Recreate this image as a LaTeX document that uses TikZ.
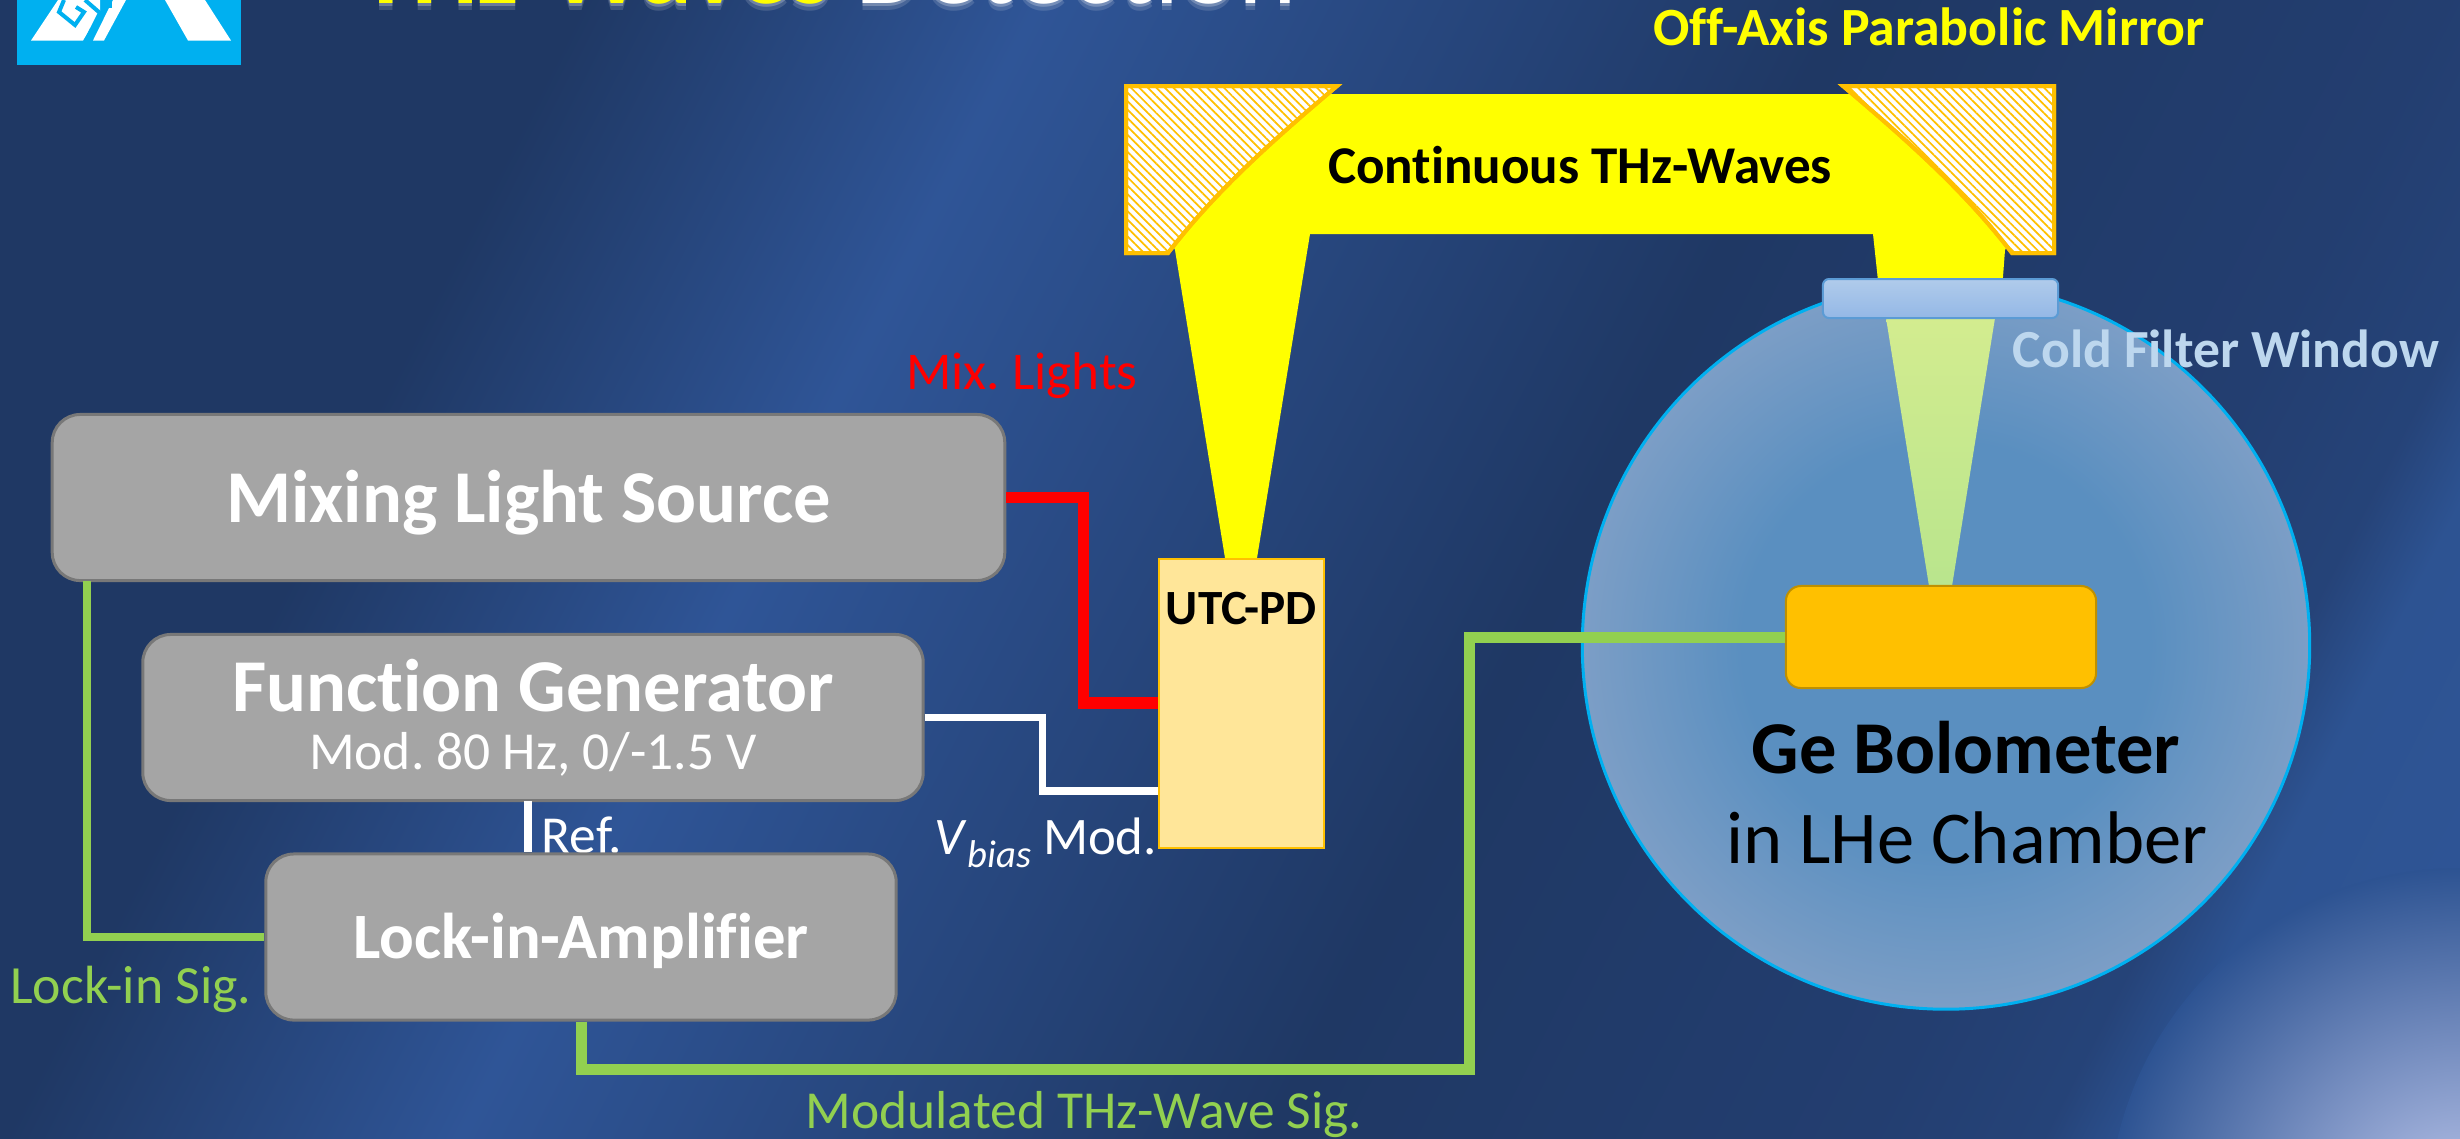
\documentclass[tikz,border=0pt]{standalone}
\usepackage{fontspec}
\setmainfont[Ligatures=NoCommon]{Carlito}
\usetikzlibrary{positioning,calc,patterns.meta}

\definecolor{slidedark}{HTML}{1F3864}
\definecolor{slidemid}{HTML}{233E70}
\definecolor{slideblue}{HTML}{2D5392}
\definecolor{slidelight}{HTML}{2F5597}
\definecolor{cornerglow}{HTML}{BEC8ED}
\definecolor{logoblue}{HTML}{00B0F0}
\definecolor{boxgray}{HTML}{A5A5A5}
\definecolor{boxedge}{HTML}{787878}
\definecolor{wiregreen}{HTML}{92D050}
\definecolor{amber}{HTML}{FFC000}
\definecolor{beamyellow}{HTML}{FFFF00}
\definecolor{pdfill}{HTML}{FFE699}
\definecolor{windowtext}{HTML}{BDD7EE}
\definecolor{windowedge}{HTML}{5B9BD5}
\definecolor{windowtop}{HTML}{B0CBEB}
\definecolor{windowlow}{HTML}{94B8E6}
\definecolor{chambermid}{HTML}{5A8FC0}
\definecolor{chamberrim}{HTML}{7C9EC6}
\definecolor{conetop}{HTML}{D3EC8F}
\definecolor{conelow}{HTML}{B9E58D}

\pgfdeclarehorizontalshading{slidewash}{100bp}{color(0bp)=(slidedark); color(41.9bp)=(slidedark);
  color(46.4bp)=(slidelight); color(54.4bp)=(slidedark); color(60.3bp)=(slidemid);
  color(62.1bp)=(slidemid!75!slideblue); color(63bp)=(slideblue); color(66bp)=(slidelight); color(100bp)=(slidelight)}
\pgfdeclareradialshading{chamberglow}{\pgfpoint{0bp}{0bp}}{color(0bp)=(chambermid);
  color(14bp)=(chambermid); color(25bp)=(chamberrim); color(50bp)=(chamberrim)}

\newcommand{\fs}[1]{\fontsize{#1}{#1}\selectfont}

\tikzset{
  tag/.style={inner sep=0pt, anchor=base},
  graybox/.style={draw=boxedge, line width=0.03cm, fill=boxgray, rounded corners=0.28cm, inner sep=0pt, text=white, align=center},
  mirror/.style={draw=amber, line width=0.04cm, pattern={Lines[angle=-45,distance=1.7pt,line width=0.5pt]}, pattern color=amber},
  wire/.style={line cap=butt, line join=miter}
}

\begin{document}
\frenchspacing
\begin{tikzpicture}[x=0.01cm, y=-0.01cm]
  \useasboundingbox (0,0) rectangle (2460,1138);
  \clip (0,0) rectangle (2460,1138);

  % slide background
  \shade[transform canvas={rotate=-27}, shading=slidewash] (-1000,-2000) rectangle (3500,3000);
  \shade[inner color=cornerglow, outer color=slideblue] (2460,1220) circle (352);

  % logo
  \fill[logoblue] (17,0) rectangle (241,65);
  \fill[white] (58,0) -- (31,40.5) -- (83,40.5) -- (100,13) -- (100,0) -- cycle;
  \fill[white] (113,0) -- (93,40.5) -- (104,40.5) -- (126,0) -- cycle;
  \fill[white] (165,0) -- (188,40.5) -- (231,40.5) -- (205,0) -- cycle;
  \draw[logoblue, line width=0.04cm] (64,0) -- (59,12) -- (75,25) -- (84,12) -- (76,7);
  \draw[logoblue, line width=0.04cm] (85,0) -- (100,13) -- (86,40.5);
  \fill[logoblue] (104,1) rectangle (112,8);

  % title with its soft shadow
  \foreach \off/\op in {7/0.14,3/0.24} {
    \node[tag, anchor=base west, text=white, opacity=\op, font=\fs{29.6}\bfseries] (shadowa\off) at (360,3+\off) {THz-Waves};
    \node[tag, anchor=base west, text=white, opacity=\op, font=\fs{31.6}] (shadowb\off) at (855,3+\off) {Detection};
  }
  \node[tag, anchor=base west, text=beamyellow, font=\fs{29.6}\bfseries] (titlea) at (360,3) {THz-Waves};
  \node[tag, anchor=base west, text=white, font=\fs{31.6}] (titleb) at (855,3) {Detection};

  % cold chamber
  \node[circle, draw=logoblue, line width=0.03cm, minimum size=7.27cm, inner sep=0pt, shading=chamberglow] (chamber) at (1946,645.5) {};
  \shade[top color=conetop, bottom color=conelow]
    (1886,318) -- (1995,318) -- (1952,586) -- (1929,586) -- cycle;

  % THz beam between the two mirrors
  \fill[beamyellow] (1225,558) -- (1175,250) -- (1170,240) -- (1290,94) -- (1890,94) -- (2010,240) -- (2005,250) -- (2002,290)
    -- (1879,290) -- (1873,234) -- (1310,234) -- (1257,558) -- cycle;
  \draw[mirror, fill=white] (1126,86) -- (1337,86) .. controls (1277,137) and (1218,188) .. (1168,253) -- (1126,253) -- cycle;
  \draw[mirror] (1126,86) -- (1337,86) .. controls (1277,137) and (1218,188) .. (1168,253) -- (1126,253) -- cycle;
  \draw[mirror, fill=white] (2054,86) -- (1843,86) .. controls (1903,137) and (1962,188) .. (2012,253) -- (2054,253) -- cycle;
  \draw[mirror] (2054,86) -- (1843,86) .. controls (1903,137) and (1962,188) .. (2012,253) -- (2054,253) -- cycle;

  \node[draw=windowedge, line width=0.02cm, rounded corners=0.06cm, minimum width=2.35cm, minimum height=0.39cm, inner sep=0pt,
    top color=windowtop, bottom color=windowlow] (window) at (1940.5,298.5) {};
  \node[draw=amber!75!black, line width=0.02cm, fill=amber, rounded corners=0.15cm, minimum width=3.1cm, minimum height=1.02cm, inner sep=0pt] (bolo) at (1941,637) {};

  % labels that lie under the boxes
  \node[tag, text=white, font=\fs{15.2}] (reftag) at (582,853) {Ref.};

  % instruments
  \node[graybox, minimum width=9.52cm, minimum height=1.66cm, font=\fs{21.2}\bfseries] (mixsrc) at (528.5,497.5) {\raisebox{-0.25cm}[0pt][0pt]{Mixing Light Source}};
  \node[graybox, minimum width=7.8cm, minimum height=1.66cm] (fungen) at (533,717.5)
    {{\fs{21.2}\bfseries Function Generator}\\[4.4pt]{\fs{15.2}Mod. 80 Hz, 0/-1.5 V}};
  \node[graybox, minimum width=6.3cm, minimum height=1.66cm, font=\fs{18.4}\bfseries] (lockin) at (581,937) {\raisebox{-0.21cm}[0pt][0pt]{Lock-in-Amplifier}};
  \node[draw=amber, line width=0.025cm, fill=pdfill, minimum width=1.65cm, minimum height=2.89cm, inner sep=0pt] (utcpd) at (1241.5,703.5) {};

  % connectors
  \coordinate (redin) at (utcpd.west |- 0,703);
  \coordinate (biasin) at (utcpd.west |- 0,791);
  \coordinate (reftop) at (528,801);
  \coordinate (lockup) at (87,581);
  \draw[wire, red, line width=0.115cm] (mixsrc.east) -- ++(77,0) |- (redin);
  \draw[wire, white, line width=0.075cm] (fungen.east) -- ++(118,0) |- (biasin);
  \draw[wire, white, line width=0.075cm] (reftop) -- (reftop |- lockin.north);
  \draw[wire, wiregreen, line width=0.08cm] (lockup) |- (lockin.west);
  \draw[wire, wiregreen, line width=0.11cm] (lockin.south) -- ++(0,48) -| (1469,637) -- (bolo.west);

  % remaining labels
  \node[tag, font=\fs{15.1}\bfseries] (beamtag) at (1580,183) {Continuous THz-Waves};
  \node[tag, text=beamyellow, font=\fs{15.3}\bfseries] (mirrortag) at (1929,45) {Off-Axis Parabolic Mirror};
  \node[tag, text=windowtext, font=\fs{15.25}\bfseries] (windowtag) at (2226,367) {Cold Filter Window};
  \node[tag, font=\fs{14}\bfseries] (pdtag) at (1241.5,624) {UTC-PD};
  \node[tag, text=red, font=\fs{15.1}] (lighttag) at (1022,389) {Mix. Lights};
  \node[tag, text=white, font=\fs{15}] (biastag) at (1046,854) {\textit{V}\raisebox{-0.25em}{\textit{\fs{11}bias}} Mod.};
  \node[tag, text=wiregreen, font=\fs{15.3}] (locktag) at (131,1003) {Lock-in Sig.};
  \node[tag, text=wiregreen, font=\fs{15.2}] (sigtag) at (1084,1128) {Modulated THz-Wave Sig.};
  \node[tag, font=\fs{21.2}\bfseries] (bolotag) at (1966,773) {Ge Bolometer};
  \node[tag, font=\fs{21.2}] (chambertag) at (1967,863) {in LHe Chamber};
\end{tikzpicture}
\end{document}
